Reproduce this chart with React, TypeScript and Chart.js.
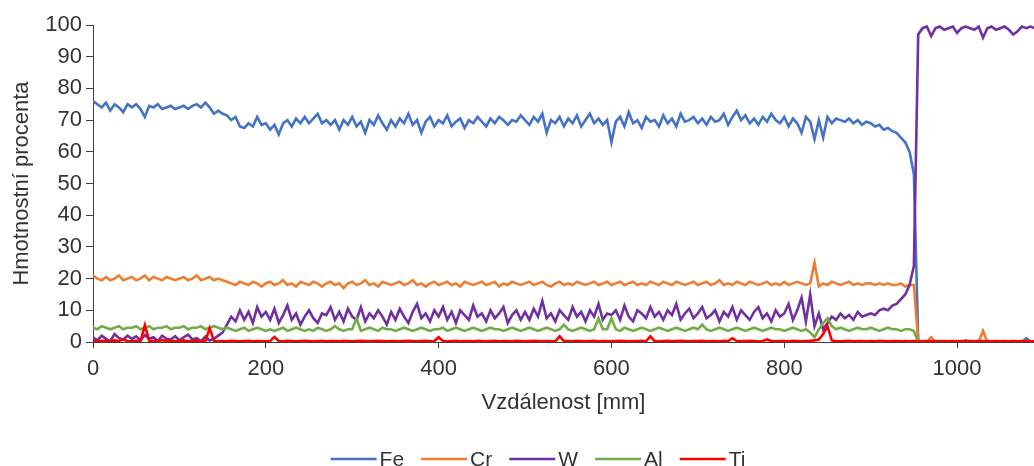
import React, { useEffect, useRef } from "react";
import { Chart, registerables } from "chart.js";

Chart.register(...registerables);

// sampling step along the measured distance (mm)
const STEP_MM = 5;

const seriesNames = ["Fe", "Cr", "W", "Al", "Ti"];
const seriesColors = ["#4472C4", "#ED7D31", "#7030A0", "#70AD47", "#FF0000"];

const xTitle = "Vzdálenost [mm]";
const yTitle = "Hmotnostní procenta";

// values every 5 mm from 0 to 1090 mm
const fe = [
  76, 75, 74, 75.5, 73, 75, 74, 72.5, 75, 74,
  75, 73.5, 71, 74.5, 74, 75, 73.5, 74, 74.5, 73.5,
  74, 74.5, 73.5, 74.5, 75, 74, 75.5, 74, 72, 73,
  72, 71.5, 70, 71, 68, 67.5, 69, 68, 71, 68.5,
  69, 67, 68.5, 65.5, 69, 70, 68, 70.5, 69, 71,
  69, 70.5, 72, 69, 70, 68.5, 70, 67, 70, 68.5,
  71, 68, 69.5, 66, 70, 68.5, 71.5, 69, 67, 70,
  68, 70.5, 69, 72, 68.5, 70, 66, 69.5, 71, 68,
  70, 69, 71.5, 68, 69.5, 70.5, 67.5, 70, 69, 71,
  69.5, 68, 70.5, 69, 71, 70, 68.5, 70, 69.5, 71.5,
  70, 68.5, 71, 69.5, 72, 66, 70, 69, 71, 68,
  70.5, 69, 71.5, 68, 70, 72, 69, 70.5, 68.5, 70,
  63, 69.5, 71, 68, 72.5, 69, 70, 67.5, 71, 69.5,
  70, 68, 71.5, 69, 70.5, 68, 72, 69.5, 70, 71,
  69, 70.5, 68.5, 71, 69.5, 70, 72, 68.5, 71, 73,
  70, 71.5, 69, 70.5, 68.5, 71, 69.5, 72, 70, 69,
  71, 68, 70.5, 69, 66, 71, 69.5, 64, 70, 64.5,
  71, 69, 70.5, 70, 69.5, 70.5, 69, 70, 68.5, 69.5,
  69, 68, 68.5, 67, 67.5, 66.5, 66, 64.5, 63, 60,
  53, 0.5, 0, 0, 0.3, 0, 0, 0, 0.2, 0,
  0, 0, 0.5, 0, 0, 0.3, 0, 0, 0, 0,
  0, 0.2, 0, 0, 0, 0, 1.2, 0, 0,
];

const cr = [
  21, 20, 19.5, 20.5, 19.5, 20, 21, 19.5, 20, 20.5,
  19.5, 20, 21, 19.5, 20.5, 20, 19.5, 20.5, 20, 19.5,
  20, 20.5, 19.5, 20, 21, 19.5, 20, 20.5, 19.5, 20,
  19.5, 19, 18.5, 18, 19, 18.5, 18, 19, 18.5, 17.5,
  18.5, 19, 18, 18.5, 19.5, 18, 18.5, 17.5, 19, 18.5,
  18, 19, 18.5, 17.5, 18.5, 19, 18, 18.5, 17, 18.5,
  19, 18, 18.5, 19.5, 18, 18.5, 17.5, 19, 18.5, 18,
  18.5, 19, 18, 18.5, 19.5, 18, 18.5, 17.5, 18.5, 19,
  18, 18.5, 19, 18, 18.5, 17.5, 19, 18.5, 18, 18.5,
  19, 18, 18.5, 19, 17.5, 18.5, 18, 19, 18.5, 18,
  18.5, 19, 18, 18.5, 19, 18, 17.5, 18.5, 19, 18,
  18.5, 18, 19, 18.5, 18, 18.5, 19, 18, 18.5, 19,
  18, 18.5, 19, 18, 18.5, 19, 18, 18.5, 18, 19,
  18.5, 18, 19, 18.5, 18, 19, 18.5, 18, 18.5, 19,
  18, 18.5, 19, 18, 18.5, 19.5, 18, 18.5, 18, 19,
  18.5, 18, 19, 18.5, 18, 18.5, 19, 18, 18.5, 18,
  19, 18, 18.5, 19, 18.5, 18, 18.5, 25, 17.5, 18.5,
  18, 19, 18.5, 18, 18.5, 19, 18, 18.5, 18, 18.5,
  18.5, 18, 18.5, 18, 18.5, 18, 18, 18.5, 17.5, 18,
  18, 0.5, 0, 0, 1.5, 0, 0, 0, 0, 0,
  0, 0, 0, 0, 0, 0, 3.5, 0, 0, 0,
  0, 0, 0, 0, 0, 0, 0, 0, 0,
];

const w = [
  1.5, 0.5, 2, 1, 0.3, 2.5, 1.2, 0.8, 2, 1,
  1.8, 0.5, 2.2, 1, 1.5, 0.3, 2, 1, 0.8, 1.8,
  0.5, 1.5, 2.3, 0.8, 1.2, 0.2, 1.7, 0.5, 1, 2,
  3, 5.5, 8, 6.5, 10, 7, 9.5, 6, 11, 8,
  9.5, 7, 10.5, 6, 8.5, 11.5, 7, 9, 5.5, 8,
  10, 7.5, 6, 9, 8.5, 11, 7, 9.5, 6.5, 10.5,
  8, 7, 11, 6.5, 9, 7.5, 10, 8, 5.5, 9.5,
  7, 10.5, 8, 6, 9.5, 12, 7.5, 9, 6.5, 10,
  8, 11, 7, 9.5, 6, 10, 8.5, 7, 11.5, 8,
  9, 6.5, 10, 7.5, 9, 11, 6, 8.5, 10, 7,
  9.5, 7, 10.5, 8, 13, 7.5, 9, 6.5, 10, 8.5,
  7, 11, 8, 9.5, 6.5, 10, 8, 12, 7, 9,
  8.5, 10, 7, 11.5, 8, 6.5, 10, 9, 7.5, 11,
  8, 9.5, 7, 10, 8.5, 12, 7, 9, 10.5, 7.5,
  9, 11, 7.5, 8.5, 10, 6.5, 9.5, 8, 11, 7,
  10, 8.5, 7, 9.5, 11, 7.5, 9, 6.5, 10, 8,
  9, 12, 7, 10, 14, 6.5, 15, 5, 9, 4,
  6, 8, 7, 9, 7.5, 8.5, 7, 9.5, 8, 8.5,
  9, 8.5, 10, 10.5, 10, 11.5, 12, 13.5, 15, 18,
  24, 97, 99, 99.5, 96.5, 99, 99.5, 98.5, 99, 99.5,
  97.5, 99, 99.5, 99, 98.5, 99.5, 96, 99, 99.5, 98.5,
  99, 99.5, 98.5, 97, 98, 99.5, 99, 99.5, 99,
];

const al = [
  4.5, 4, 5, 4.5, 4, 4.5, 5, 4, 4.5, 4.5,
  5, 4, 4.5, 5, 4, 4.5, 4.5, 5, 4, 4.5,
  4.5, 5, 4, 4.5, 4.5, 5, 4, 4.5, 5, 4.5,
  4, 4.5, 4, 3.5, 4, 4.5, 3.5, 4, 4.5, 4,
  3.5, 4, 3.5, 4, 4.5, 3.5, 4, 4.5, 4, 3.5,
  4, 3.5, 4.5, 4, 3.5, 4, 5, 4, 3.5, 4,
  4, 7.5, 3.5, 4, 4.5, 4, 3.5, 4.5, 4, 4,
  3.5, 4, 4.5, 4, 3.5, 4, 4.5, 4, 3.5, 4,
  4, 4.5, 3.5, 4, 4.5, 4, 3.5, 4, 4.5, 4,
  3.5, 4, 4.5, 4, 4, 3.5, 4, 4.5, 4, 3.5,
  4, 4.5, 4, 3.5, 4, 4.5, 4, 3.5, 4, 5.5,
  4, 3.5, 4, 4.5, 4, 3.5, 4, 7.5, 4, 4,
  7.5, 4, 3.5, 4.5, 4, 3.5, 4, 4.5, 4, 3.5,
  4, 4.5, 4, 3.5, 4, 4.5, 4, 3.5, 4, 4.5,
  4, 5.5, 4, 3.5, 4, 4.5, 4, 3.5, 4, 4.5,
  4, 3.5, 4, 4.5, 4, 3.5, 4, 4.5, 4, 4,
  3.5, 4, 4.5, 4, 3.5, 4, 3, 1.5, 4, 6,
  7.5, 5, 4, 4.5, 4, 3.5, 4, 4.5, 4, 4,
  4.5, 4, 3.5, 4, 4.5, 4, 4, 3.5, 4, 4,
  3.5, 0, 0, 0, 0, 0, 0, 0, 0, 0,
  0, 0, 0, 0, 0, 0, 0, 0, 0, 0,
  0, 0, 0, 0, 0, 0, 0, 0, 0,
];

const ti = [
  0.3, 0.2, 0.4, 0.3, 0.2, 0.5, 0.3, 0.8, 0.3, 0.2,
  0.4, 0.3, 5.3, 0.4, 0.3, 0.2, 0.6, 0.3, 0.4, 0.2,
  0.3, 0.5, 0.2, 0.3, 0.4, 0.3, 0.2, 4.4, 0.3, 0.2,
  0.3, 0.2, 0.4, 0.3, 0.2, 0.3, 0.4, 0.2, 0.3, 0.3,
  0.2, 0.3, 1.6, 0.3, 0.2, 0.4, 0.3, 0.2, 0.3, 0.4,
  0.3, 0.2, 0.3, 0.4, 0.2, 0.3, 0.3, 0.2, 0.4, 0.3,
  0.2, 0.3, 0.4, 0.3, 0.2, 0.3, 0.4, 0.3, 0.2, 0.3,
  0.3, 0.2, 0.3, 0.4, 0.3, 0.2, 0.3, 0.4, 0.2, 0.3,
  1.5, 0.3, 0.2, 0.3, 0.4, 0.2, 0.3, 0.3, 0.2, 0.4,
  0.3, 0.2, 0.3, 0.4, 0.2, 0.3, 0.3, 0.2, 0.4, 0.3,
  0.2, 0.3, 0.4, 0.3, 0.2, 0.3, 0.3, 0.2, 1.8, 0.3,
  0.3, 0.2, 0.4, 0.3, 0.2, 0.3, 0.4, 0.2, 0.3, 0.3,
  0.2, 0.3, 0.4, 0.3, 0.2, 0.3, 0.3, 0.4, 0.2, 1.8,
  0.3, 0.2, 0.3, 0.4, 0.2, 0.3, 0.4, 0.3, 0.2, 0.3,
  0.3, 0.4, 0.2, 0.3, 0.3, 0.2, 0.4, 0.3, 1.2, 0.3,
  0.2, 0.3, 0.4, 0.3, 0.2, 0.3, 0.8, 0.3, 0.2, 0.3,
  0.3, 0.2, 0.4, 0.3, 0.2, 0.3, 0.4, 0.5, 0.8, 2.5,
  5, 0.5, 0.3, 0.2, 0.3, 0.4, 0.2, 0.3, 0.3, 0.2,
  0.3, 0.2, 0.4, 0.3, 0.2, 0.3, 0.3, 0.2, 0.3, 0.2,
  0.3, 0.2, 0.2, 0.3, 0.2, 0.3, 0.2, 0.3, 0.2, 0.3,
  0.2, 0.3, 0.2, 0.3, 0.2, 0.3, 0.2, 0.3, 0.2, 0.3,
  0.2, 0.3, 0.2, 0.3, 0.2, 0.3, 0.2, 0.3, 0.2,
];

const seriesValues = [fe, cr, w, al, ti];

const xTickStep = 200;
const yTickStep = 10;

export default function App() {
  const ref = useRef<HTMLCanvasElement>(null);

  useEffect(() => {
    if (!ref.current) return;
    const fontFamily = "'Liberation Sans', Arial, sans-serif";
    const textColor = "#333333";
    const axisColor = "#404040";
    const font = { family: fontFamily, size: 22 };

    const legendPlugin = {
      id: "bottomLegend",
      afterDraw(chart: any) {
        const ctx = chart.ctx as CanvasRenderingContext2D;
        ctx.save();
        ctx.font = `21px ${fontFamily}`;
        ctx.textBaseline = "middle";
        const lineLen = 46;
        const gap = 3;
        const itemGap = 17;
        const items = chart.data.datasets.map((d: any) => ({
          label: d.label,
          color: d.borderColor,
          w: lineLen + gap + ctx.measureText(d.label).width,
        }));
        const total =
          items.reduce((s: number, it: any) => s + it.w, 0) + itemGap * (items.length - 1);
        let x = 538 - total / 2;
        const y = 459;
        for (const it of items) {
          ctx.strokeStyle = it.color;
          ctx.lineWidth = 2.5;
          ctx.beginPath();
          ctx.moveTo(x, y);
          ctx.lineTo(x + lineLen, y);
          ctx.stroke();
          ctx.fillStyle = textColor;
          ctx.fillText(it.label, x + lineLen + gap, y + 1);
          x += it.w + itemGap;
        }
        ctx.restore();
      },
    };

    const chart = new Chart(ref.current, {
      type: "line",
      data: {
        datasets: seriesNames.map((name, k) => ({
          label: name,
          data: seriesValues[k].map((v, i) => ({ x: i * STEP_MM, y: v })),
          borderColor: seriesColors[k],
          backgroundColor: seriesColors[k],
          borderWidth: 2.6,
          pointRadius: 0,
          tension: 0,
          fill: false,
          order: seriesNames.length - k,
        })),
      },
      options: {
        responsive: false,
        animation: false,
        events: [],
        layout: { padding: { top: 25, left: 0, right: 0, bottom: 0 } },
        plugins: {
          legend: { display: false },
          tooltip: { enabled: false },
        },
        scales: {
          x: {
            type: "linear",
            min: 0,
            max: 1089,
            ticks: {
              stepSize: xTickStep,
              includeBounds: false,
              font,
              color: textColor,
              padding: 8,
              maxRotation: 0,
              callback: (v: any) => String(v),
            },
            grid: { drawOnChartArea: false, drawTicks: true, tickLength: 6, color: axisColor },
            border: { display: true, color: axisColor, width: 1 },
            title: {
              display: true,
              text: xTitle,
              font,
              color: textColor,
              padding: { top: 0, bottom: 50 },
            },
            afterFit(scale: any) {
              scale.height = 124;
            },
          },
          y: {
            min: 0,
            max: 100,
            ticks: { stepSize: yTickStep, font, color: textColor, padding: 4, callback: (v: any) => String(v) },
            grid: { drawOnChartArea: false, drawTicks: true, tickLength: 7, color: axisColor },
            border: { display: true, color: axisColor, width: 1 },
            title: {
              display: true,
              text: yTitle,
              font,
              color: textColor,
              padding: { top: 9, bottom: 0 },
            },
            afterFit(scale: any) {
              scale.width = 93;
            },
          },
        },
      },
      plugins: [legendPlugin],
    } as any);

    return () => chart.destroy();
  }, []);

  return (
    <div style={{ position: "absolute", left: 0, top: 0, width: 1034, height: 466, background: "#fff" }}>
      <canvas ref={ref} width={1034} height={466} style={{ display: "block" }} />
    </div>
  );
}
